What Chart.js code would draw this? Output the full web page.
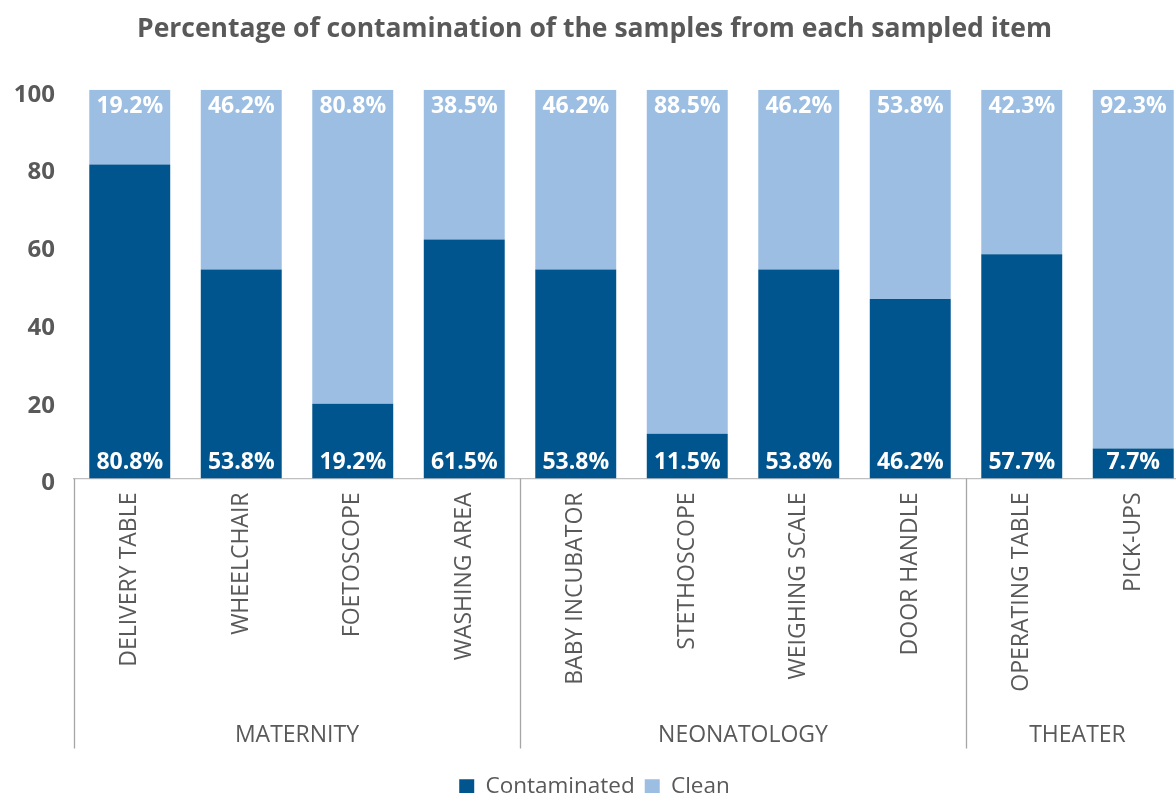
<!DOCTYPE html>
<html>
<head>
<meta charset="utf-8">
<script src="https://cdn.jsdelivr.net/npm/chart.js@4/dist/chart.umd.min.js"></script>
<style>
  html, body { margin: 0; padding: 0; background: #fff; overflow: hidden; }
  #wrap { width: 1200px; height: 808px; position: relative; }
</style>
</head>
<body>
<div id="wrap"><canvas id="chart"></canvas></div>
<script>
// Contamination by sampled item, grouped by ward
const items = [
  "DELIVERY TABLE", "WHEELCHAIR", "FOETOSCOPE", "WASHING AREA",
  "BABY INCUBATOR", "STETHOSCOPE", "WEIGHING SCALE", "DOOR HANDLE",
  "OPERATING TABLE", "PICK-UPS",
];
const contaminated = [80.8, 53.8, 19.2, 61.5, 53.8, 11.5, 53.8, 46.2, 57.7, 7.7];
const clean = [19.2, 46.2, 80.8, 38.5, 46.2, 88.5, 46.2, 53.8, 42.3, 92.3];
const wards = ["MATERNITY", "NEONATOLOGY", "THEATER"];
const wardSizes = [4, 4, 2];
const yTicks = [0, 20, 40, 60, 80, 100];

const GREY = "#595959";
const FONT = "'Open Sans', 'Noto Sans', sans-serif";

// white % labels: contaminated at bar bottom, clean at bar top
const barLabels = {
  id: "barLabels",
  afterDatasetsDraw(chart) {
    const ctx = chart.ctx;
    ctx.save();
    ctx.fillStyle = "#fff";
    ctx.font = "bold 23px " + FONT;
    ctx.textAlign = "center";
    ctx.textBaseline = "middle";
    chart.data.datasets.forEach((ds, di) => {
      chart.getDatasetMeta(di).data.forEach((bar, i) => {
        const y = di === 0 ? bar.base - 16 : bar.y + 17;
        ctx.fillText(ds.data[i].toFixed(1) + "%", bar.x, y);
      });
    });
    ctx.restore();
  },
};

// ward names under the item labels, with separators
const wardAxis = {
  id: "wardAxis",
  afterDraw(chart) {
    const ctx = chart.ctx;
    const x = chart.scales.x;
    const bottom = chart.chartArea.bottom;
    const half = (x.getPixelForValue(1) - x.getPixelForValue(0)) / 2;
    ctx.save();
    ctx.strokeStyle = "#A6A6A6";
    ctx.lineWidth = 1.3;
    ctx.fillStyle = GREY;
    ctx.font = "23px " + FONT;
    ctx.textAlign = "center";
    ctx.textBaseline = "middle";
    let start = 0;
    wards.forEach((w, k) => {
      const end = start + wardSizes[k] - 1;
      const left = x.getPixelForValue(start) - half;
      const right = x.getPixelForValue(end) + half;
      ctx.beginPath();
      ctx.moveTo(Math.round(left) + 0.5, bottom);
      ctx.lineTo(Math.round(left) + 0.5, bottom + 270);
      ctx.stroke();
      ctx.fillText(w, (left + right) / 2, bottom + 257);
      start = end + 1;
    });
    ctx.restore();
  },
};

new Chart(document.getElementById("chart"), {
  type: "bar",
  data: {
    labels: items,
    datasets: [
      {
        label: "Contaminated",
        data: contaminated,
        backgroundColor: "#00558F",
        categoryPercentage: 1,
        barPercentage: 0.726,
      },
      {
        label: "Clean",
        data: clean,
        backgroundColor: "#9BBEE2",
        categoryPercentage: 1,
        barPercentage: 0.726,
      },
    ],
  },
  options: {
    responsive: true,
    maintainAspectRatio: false,
    animation: false,
    layout: { padding: { left: 0, right: 11, top: 0, bottom: 0 } },
    plugins: {
      title: {
        display: true,
        text: "Percentage of contamination of the samples from each sampled item",
        color: GREY,
        font: { family: FONT, size: 26.5, weight: "bold" },
        padding: { top: 14, bottom: 44 },
      },
      legend: {
        position: "bottom",
        labels: {
          color: GREY,
          font: { family: FONT, size: 22.5 },
          boxWidth: 15,
          boxHeight: 15,
          padding: 10,
        },
      },
      tooltip: { enabled: false },
    },
    scales: {
      x: {
        stacked: true,
        grid: { display: false, drawTicks: false },
        border: { color: "#BFBFBF", width: 1.3 },
        ticks: {
          color: GREY,
          font: { family: FONT, size: 23 },
          autoSkip: false,
          maxRotation: 90,
          minRotation: 90,
          padding: 14,
        },
        afterFit(scale) { scale.height = 287; },
      },
      y: {
        stacked: true,
        min: 0,
        max: 100,
        afterBuildTicks(scale) { scale.ticks = yTicks.map((v) => ({ value: v })); },
        grid: { display: false, drawTicks: false },
        border: { display: false },
        ticks: {
          color: GREY,
          font: { family: FONT, size: 24, weight: "bold" },
          padding: 19,
          labelOffset: 5,
        },
        afterFit(scale) { scale.width = 74; },
      },
    },
  },
  plugins: [barLabels, wardAxis],
});
</script>
</body>
</html>
